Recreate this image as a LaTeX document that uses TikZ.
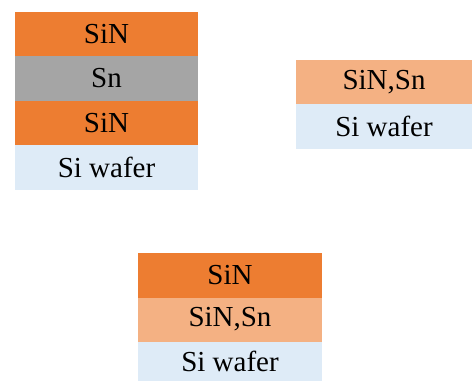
\documentclass[tikz,border=0pt]{standalone}
\usepackage{fontspec}
\setmainfont{Liberation Serif}
\definecolor{sinc}{HTML}{ED7D31}
\definecolor{snc}{HTML}{A5A5A5}
\definecolor{mixc}{HTML}{F4B183}
\definecolor{waferc}{HTML}{DEEBF7}
\begin{document}
\begin{tikzpicture}[x=1pt,y=-1pt,
  layer/.style={inner sep=0pt,outer sep=0pt,anchor=north west,font=\fontsize{29}{32}\selectfont,text=black}]
\useasboundingbox (0,0) rectangle (473,381);
% stack 1
\node[layer,fill=sinc,minimum width=183,minimum height=44.5] (a1) at (15,11.5) {SiN};
\node[layer,fill=snc,minimum width=183,minimum height=44.5] (a2) at (15,56) {Sn};
\node[layer,fill=sinc,minimum width=183,minimum height=44.5] (a3) at (15,100.5) {SiN};
\node[layer,fill=waferc,minimum width=183,minimum height=44.5] (a4) at (15,145) {Si wafer};
% stack 2
\node[layer,fill=mixc,minimum width=176,minimum height=44] (b1) at (296,60) {SiN,Sn};
\node[layer,fill=waferc,minimum width=176,minimum height=44.5] (b2) at (296,104) {Si wafer};
% stack 3
\node[layer,fill=sinc,minimum width=184,minimum height=45] (c1) at (138,252.5) {SiN};
\node[layer,fill=mixc,minimum width=184,minimum height=44] (c2) at (138,297.5) {SiN,Sn};
\node[layer,fill=waferc,minimum width=184,minimum height=39] (c3) at (138,341.5) {Si wafer};
\end{tikzpicture}
\end{document}
